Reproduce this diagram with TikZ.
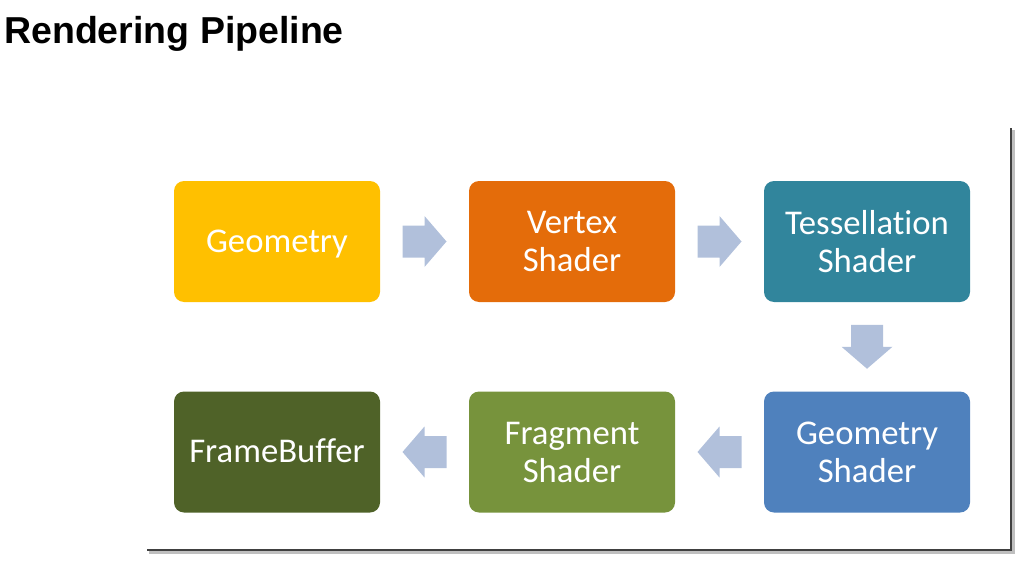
\documentclass[tikz,border=0pt]{standalone}
\usepackage{fontspec}
\newfontfamily\boxfont[Ligatures=NoCommon]{Carlito}
\newfontfamily\titlefont{Liberation Sans}
\usetikzlibrary{calc}
\definecolor{cGeom}{HTML}{FFC000}
\definecolor{cVert}{HTML}{E46C0A}
\definecolor{cTess}{HTML}{31859C}
\definecolor{cGsh}{HTML}{4F81BD}
\definecolor{cFrag}{HTML}{77933C}
\definecolor{cFB}{HTML}{4F6228}
\definecolor{cArrow}{HTML}{B1C0DB}
\tikzset{
  stagebox/.style={rectangle, rounded corners=10pt, minimum width=206pt, minimum height=121pt,
    inner sep=0pt, text=white, align=center,
    font=\boxfont\fontsize{34.7pt}{38pt}\selectfont},
  oneline/.style={text height=21pt, text depth=0pt},
  blockarrow/.style={fill=cArrow, draw=none},
}
\begin{document}
\begin{tikzpicture}[x=1pt,y=-1pt]
\useasboundingbox (0,0) rectangle (1033,567);
% title
\node[anchor=base west, inner sep=0pt, font=\titlefont\bfseries\fontsize{37.5pt}{40pt}\selectfont] (title) at (4,44) {Rendering Pipeline};
% panel edges with shadow
\draw[black!25, line width=3pt] (149,552.5) -- (1013.5,552.5) -- (1013.5,130);
\draw[black!75, line width=1.5pt] (147,550) -- (1011,550) -- (1011,128);
% boxes
\node[stagebox, oneline, fill=cGeom] (geom) at (277,241.5) {Geometry};
\node[stagebox, fill=cVert] (vert) at (572,241.5) {Vertex\\Shader};
\node[stagebox, fill=cTess] (tess) at (867,241.5) {Tessellation\\Shader};
\node[stagebox, fill=cGsh] (gsh) at (867,452) {Geometry\\Shader};
\node[stagebox, fill=cFrag] (frag) at (572,452) {Fragment\\Shader};
\node[stagebox, oneline, fill=cFB] (fb) at (277,452) {FrameBuffer};
% block arrows (length 44, shaft 22, shaft width 32, head width 51)
\coordinate (a1) at ($(geom.east)!0.5!(vert.west)$);
\fill[blockarrow] ($(a1)+(-22,-16)$) -- ++(22,0) -- ++(0,-9.5) -- ($(a1)+(22,0)$) -- ($(a1)+(0,25.5)$) -- ++(0,-9.5) -- ($(a1)+(-22,16)$) -- cycle;
\coordinate (a2) at ($(vert.east)!0.5!(tess.west)$);
\fill[blockarrow] ($(a2)+(-22,-16)$) -- ++(22,0) -- ++(0,-9.5) -- ($(a2)+(22,0)$) -- ($(a2)+(0,25.5)$) -- ++(0,-9.5) -- ($(a2)+(-22,16)$) -- cycle;
\coordinate (a3) at ($(tess.south)!0.5!(gsh.north)$);
\fill[blockarrow] ($(a3)+(-16,-22)$) -- ++(0,22) -- ++(-9.5,0) -- ($(a3)+(0,22)$) -- ($(a3)+(25.5,0)$) -- ++(-9.5,0) -- ($(a3)+(16,-22)$) -- cycle;
\coordinate (a4) at ($(gsh.west)!0.5!(frag.east)$);
\fill[blockarrow] ($(a4)+(22,-16)$) -- ++(-22,0) -- ++(0,-9.5) -- ($(a4)+(-22,0)$) -- ($(a4)+(0,25.5)$) -- ++(0,-9.5) -- ($(a4)+(22,16)$) -- cycle;
\coordinate (a5) at ($(frag.west)!0.5!(fb.east)$);
\fill[blockarrow] ($(a5)+(22,-16)$) -- ++(-22,0) -- ++(0,-9.5) -- ($(a5)+(-22,0)$) -- ($(a5)+(0,25.5)$) -- ++(0,-9.5) -- ($(a5)+(22,16)$) -- cycle;
\end{tikzpicture}
\end{document}
